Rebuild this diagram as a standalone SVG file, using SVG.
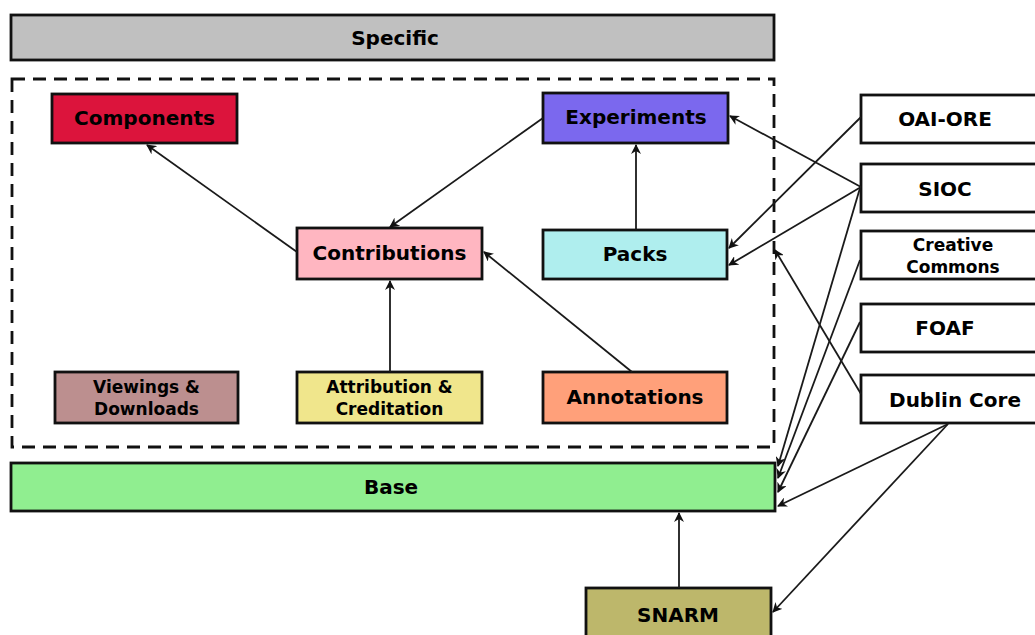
<svg xmlns="http://www.w3.org/2000/svg" width="1035" height="635" viewBox="0 0 1035 635">
<style>
.box{stroke:#111;stroke-width:2.8}
.t{font-family:"DejaVu Sans",sans-serif;font-weight:bold;font-size:20px;fill:#000;text-anchor:middle}
.s{font-size:17px}
.c{stroke:#1a1a1a;stroke-width:1.8;fill:none;marker-end:url(#ah)}
</style>
<defs>
<marker id="ah" viewBox="0 0 10 10" refX="9" refY="5" markerWidth="10" markerHeight="10" markerUnits="userSpaceOnUse" orient="auto">
<path d="M0,0 L10,5 L0,10 L3,5 z" fill="#111"/>
</marker>
</defs>
<rect width="1035" height="635" fill="#fff"/>
<g id="specific"><rect class="box" x="11" y="15" width="763" height="45" fill="#c0c0c0"/><text class="t" x="395" y="45">Specific</text></g>
<g id="container"><rect x="12" y="79" width="762" height="368" fill="none" stroke="#111" stroke-width="2.8" stroke-dasharray="13 8"/></g>
<g id="components"><rect class="box" x="52" y="94" width="185" height="49" fill="#dc143c"/><text class="t" x="144.5" y="125">Components</text></g>
<g id="experiments"><rect class="box" x="543" y="93" width="185" height="50" fill="#7b68ee"/><text class="t" x="636" y="124">Experiments</text></g>
<g id="contributions"><rect class="box" x="297" y="228" width="185" height="51" fill="#ffb6c1"/><text class="t" x="389.5" y="260">Contributions</text></g>
<g id="packs"><rect class="box" x="543" y="230" width="184" height="49" fill="#afeeee"/><text class="t" x="635" y="261">Packs</text></g>
<g id="viewings"><rect class="box" x="55" y="372" width="183" height="51" fill="#bc8f8f"/><text class="t s" x="146.5" y="393">Viewings &amp;</text><text class="t s" x="146.5" y="415">Downloads</text></g>
<g id="attribution"><rect class="box" x="297" y="372" width="185" height="51" fill="#f0e68c"/><text class="t s" x="389.5" y="393">Attribution &amp;</text><text class="t s" x="389.5" y="415">Creditation</text></g>
<g id="annotations"><rect class="box" x="543" y="372" width="184" height="51" fill="#ffa07a"/><text class="t" x="635" y="404">Annotations</text></g>
<g id="base"><rect class="box" x="11" y="463" width="764" height="48" fill="#90ee90"/><text class="t" x="391" y="494">Base</text></g>
<g id="snarm"><rect class="box" x="586" y="588" width="185" height="52" fill="#bdb76b"/><text class="t" x="678" y="622">SNARM</text></g>
<g id="oaiore"><rect class="box" x="861" y="95" width="180" height="48" fill="#fff"/><text class="t" x="945" y="126">OAI-ORE</text></g>
<g id="sioc"><rect class="box" x="861" y="164" width="180" height="48" fill="#fff"/><text class="t" x="945" y="196">SIOC</text></g>
<g id="cc"><rect class="box" x="861" y="231" width="180" height="48" fill="#fff"/><text class="t s" x="953" y="251">Creative</text><text class="t s" x="953" y="273">Commons</text></g>
<g id="foaf"><rect class="box" x="861" y="304" width="180" height="48" fill="#fff"/><text class="t" x="945" y="335">FOAF</text></g>
<g id="dublincore"><rect class="box" x="861" y="375" width="180" height="48" fill="#fff"/><text class="t" x="955" y="407">Dublin Core</text></g>
<g id="connectors">
<line class="c" x1="297" y1="252" x2="147" y2="145"/>
<line class="c" x1="543" y1="118" x2="390" y2="227"/>
<line class="c" x1="636" y1="230" x2="636" y2="145"/>
<line class="c" x1="390" y1="372" x2="390" y2="281"/>
<line class="c" x1="632" y1="372" x2="484" y2="252"/>
<line class="c" x1="861" y1="187" x2="730" y2="116"/>
<line class="c" x1="861" y1="117" x2="729" y2="248"/>
<line class="c" x1="861" y1="187" x2="729" y2="265"/>
<line class="c" x1="861" y1="394" x2="775" y2="250"/>
<line class="c" x1="860" y1="188" x2="778" y2="466"/>
<line class="c" x1="860" y1="260" x2="778" y2="478"/>
<line class="c" x1="860" y1="322" x2="778" y2="492"/>
<line class="c" x1="948" y1="424" x2="778" y2="506"/>
<line class="c" x1="948" y1="424" x2="773" y2="612"/>
<line class="c" x1="679" y1="588" x2="679" y2="513"/>
</g>
</svg>
